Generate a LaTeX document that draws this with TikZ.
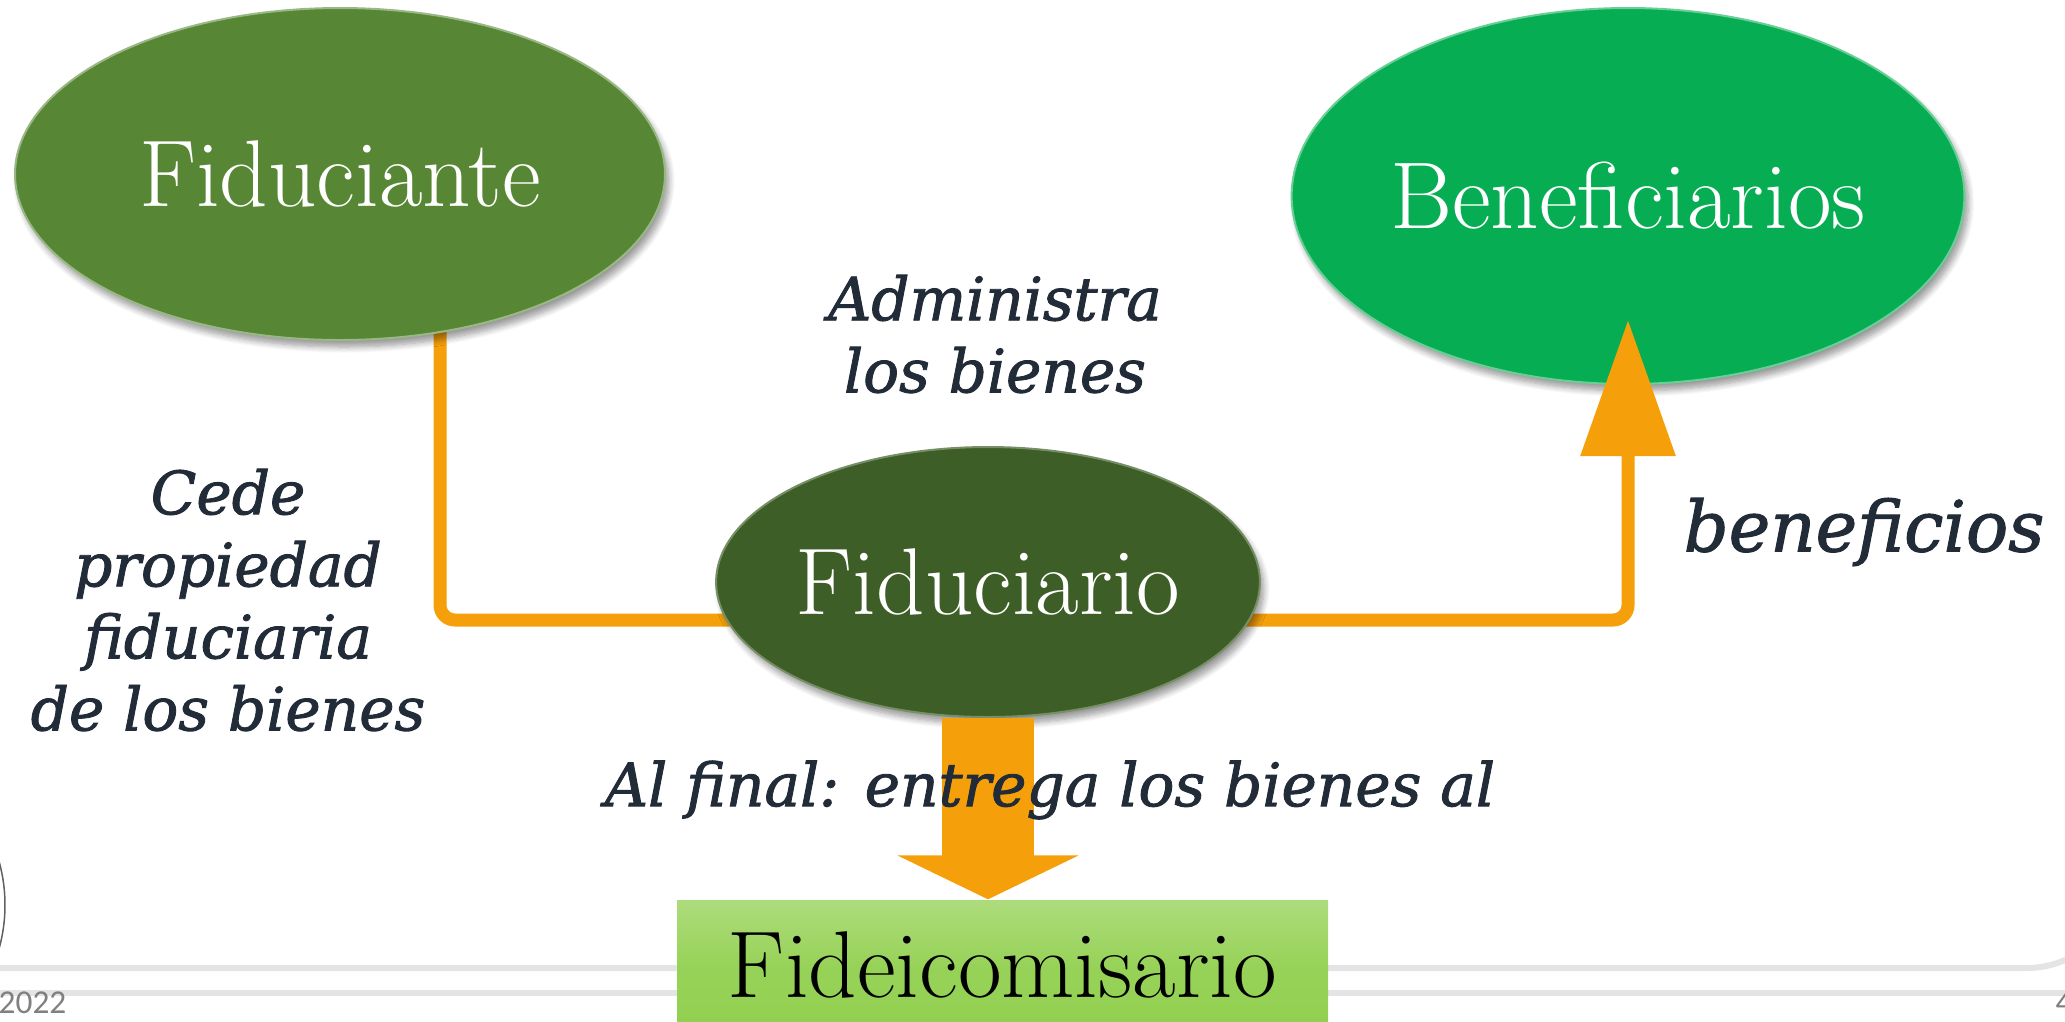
\documentclass[tikz,border=0pt]{standalone}
\usepackage{fontspec}
\newfontfamily\labelfont[ItalicFeatures={FakeBold=1.5}]{DejaVu Serif}
\newfontfamily\footfont{Carlito}
\usepackage{tikz}
\usetikzlibrary{shapes, arrows.meta, shadows.blur, backgrounds, positioning}
\definecolor{OliveGreen}{HTML}{578735}
\definecolor{DarkGreen}{HTML}{3D5E26}
\definecolor{BrightGreen}{HTML}{07AD52}
\definecolor{LightGreen}{HTML}{92D050}
\definecolor{Amber}{HTML}{F5A00A}
\definecolor{LabelInk}{HTML}{222B38}
\definecolor{FrameGray}{HTML}{E4E4E4}
\tikzstyle{party} = [ellipse, inner sep=0, text=white, font=\fontsize{27}{32}\selectfont,
                    blur shadow={shadow xshift=0.04cm, shadow yshift=-0.07cm, shadow blur steps=8}]
\tikzstyle{remark} = [align=center, text=LabelInk, inner sep=0, font=\labelfont\itshape\fontsize{17}{20.5}\selectfont]
\tikzstyle{conn} = [draw=Amber, line width=0.13cm, rounded corners=0.15cm]
\tikzstyle{frameline} = [FrameGray, line width=0.06cm]

\begin{document}
\begin{tikzpicture}
					\useasboundingbox (0, 0) rectangle (20.65, -10.21);

					% slide frame
					\draw[frameline, rounded corners=0.94cm] (-0.1, -9.68) -- (21.21, -9.68) -- (21.21, 0.5);
					\draw[frameline] (-0.1, -9.93) -- (20.75, -9.93);
					\draw[gray!75!black, line width=0.015cm] (-1.57, -9.05) circle (1.62cm);
					\node (Date) [anchor=base west, inner sep=0, text=gray, font=\footfont\fontsize{9.5}{11}\selectfont] at (-0.02, -10.13) {2022};
					\node (Page) [anchor=base west, inner sep=0, text=gray, font=\footfont\fontsize{9.5}{11}\selectfont] at (20.55, -10.13) {4};

					% parties
					\node (Fiduciante) [party, fill=OliveGreen, draw=OliveGreen!60!white, line width=0.02cm,
						minimum width=6.5cm, minimum height=3.32cm] at (3.40, -1.74) {Fiduciante};
					\node (Fiduciario) [party, fill=DarkGreen, draw=DarkGreen!70!white, line width=0.02cm,
						minimum width=5.3cm, minimum height=2.7cm] at (9.88, -5.82) {Fiduciario};

					\begin{pgfonlayer}{background}
						\node (Beneficiarios) [party, fill=BrightGreen, draw=BrightGreen!60!white, line width=0.02cm,
							minimum width=6.34cm, minimum height=3.76cm] at (16.28, -1.96) {Beneficiarios};
						\draw[conn] ([xshift=1cm]Fiduciante.center) |- ([yshift=-0.38cm]Fiduciario.center);
						\draw[conn, -{Triangle[width=0.92cm, length=1.36cm]}] ([yshift=-0.38cm]Fiduciario.center)
							-| ([yshift=0.65cm]Beneficiarios.south);
					\end{pgfonlayer}

					% final transfer
					\node (Fideicomisario) [rectangle, inner sep=0, minimum width=6.51cm, minimum height=1.3cm,
						top color=LightGreen!75!white, bottom color=LightGreen, middle color=LightGreen!95!white,
						font=\fontsize{27}{32}\selectfont] at (10.025, -9.65) {Fideicomisario};
					\draw[Amber, line width=0.92cm, -{Triangle[width=1.8cm, length=0.44cm]}]
						(Fiduciario.south) -- (Fiduciario.south |- Fideicomisario.north);

					% remarks
					\node (Administra) [remark] at (9.95, -3.34) {Administra\\los bienes};
					\node (Cede) [remark] at (2.28, -6.00) {Cede\\propiedad\\fiduciaria\\de los bienes};
					\node (Beneficios) [remark, font=\labelfont\itshape\fontsize{20}{24}\selectfont] at (18.64, -5.32) {beneficios};
					\node (AlFinal) [remark] at (10.50, -7.90) {Al final: entrega los bienes al};
				\end{tikzpicture}
\end{document}
